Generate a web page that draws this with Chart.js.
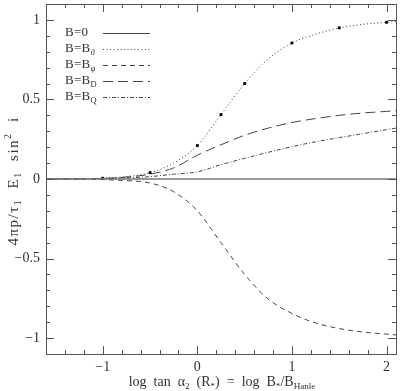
<!DOCTYPE html>
<html>
<head>
<meta charset="utf-8">
<script src="https://cdn.jsdelivr.net/npm/chart.js@4"></script>
<style>
  body { margin: 0; background: #fff; }
  #wrap { width: 400px; height: 391px; }
</style>
</head>
<body>
<div id="wrap"><canvas id="hanleChart" width="400" height="391"></canvas></div>
<script>
// x values shared by all curves (log tan alpha2)
const xVals = [-1.6, -1.25, -1, -0.75, -0.5, -0.25, 0, 0.25, 0.5, 0.75, 1, 1.25, 1.5, 1.75, 2, 2.1];
const zeroVals  = [0, 0, 0, 0, 0, 0, 0, 0, 0, 0, 0, 0, 0, 0, 0, 0];
const thetaVals = [0, 0.001, 0.005, 0.015, 0.04, 0.1, 0.21, 0.405, 0.6, 0.755, 0.855, 0.91, 0.95, 0.972, 0.985, 0.99];
const phiVals   = [0, -0.001, -0.004, -0.01, -0.025, -0.08, -0.2, -0.4, -0.6, -0.755, -0.845, -0.905, -0.94, -0.962, -0.975, -0.98];
const dVals     = [0, 0.001, 0.004, 0.012, 0.03, 0.07, 0.15, 0.215, 0.275, 0.32, 0.355, 0.38, 0.4, 0.415, 0.425, 0.43];
const qVals     = [0, 0.001, 0.003, 0.007, 0.015, 0.03, 0.045, 0.09, 0.13, 0.168, 0.203, 0.234, 0.26, 0.285, 0.31, 0.32];

// black square markers on the B_theta curve
const markX = [-1, -0.5, 0, 0.25, 0.5, 1, 1.5, 2];
const markY = [0.005, 0.04, 0.21, 0.405, 0.6, 0.855, 0.95, 0.985];

const xTicks = [-1, 0, 1, 2];
const xTickLabels = ['\u22121', '0', '1', '2'];
const yTicks = [-1, -0.5, 0, 0.5, 1];
const yTickLabels = ['\u22121', '\u22120.5', '0', '0.5', '1'];

const FONT = '"Liberation Serif", "DejaVu Serif", serif';
const INK = '#333';

const pts = (ys) => xVals.map((x, i) => ({ x: x, y: ys[i] }));

// legend entries: [label, subscript, dash]
const legendItems = [
  ['B=0', '', []],
  ['B=B', '\u03d1', [1, 2.5]],
  ['B=B', '\u03c6', [5, 4]],
  ['B=B', 'D', [10, 5]],
  ['B=B', 'Q', [4, 2, 1, 2]]
];

function drawRich(ctx, parts, x, y, size, align, spacing) {
  // parts: [text, mode] mode: '' | 'sub' | 'sup'
  ctx.letterSpacing = (spacing || 0) + 'px';
  let w = 0;
  parts.forEach(p => {
    ctx.font = (p[1] ? size * 0.65 : size) + 'px ' + FONT;
    w += ctx.measureText(p[0]).width;
  });
  let cx = align === 'center' ? x - w / 2 : x;
  parts.forEach(p => {
    const s = p[1] ? size * 0.65 : size;
    ctx.font = s + 'px ' + FONT;
    let dy = 0;
    if (p[1] === 'sub') dy = size * 0.3;
    if (p[1] === 'sup') dy = -size * 0.4;
    ctx.fillText(p[0], cx, y + dy);
    cx += ctx.measureText(p[0]).width;
  });
  ctx.letterSpacing = '0px';
}

const framePlugin = {
  id: 'frame',
  afterDraw(chart) {
    const ctx = chart.ctx;
    const a = chart.chartArea;
    const xs = chart.scales.x, ys = chart.scales.y;
    ctx.save();
    ctx.strokeStyle = '#555';
    ctx.lineWidth = 1;
    ctx.setLineDash([]);
    ctx.strokeRect(a.left + 0.5, a.top + 0.5, a.right - a.left, a.bottom - a.top);

    // x ticks (inward, bottom and top)
    ctx.beginPath();
    for (let v = -1.6; v <= 2.1 + 1e-9; v += 0.2) {
      const px = Math.round(xs.getPixelForValue(v)) + 0.5;
      const major = Math.abs(v - Math.round(v)) < 1e-6;
      const len = major ? 8 : 4;
      ctx.moveTo(px, a.bottom); ctx.lineTo(px, a.bottom - len);
      ctx.moveTo(px, a.top); ctx.lineTo(px, a.top + len);
    }
    // y ticks (inward, left and right)
    for (let v = -1.1; v <= 1.1 + 1e-9; v += 0.1) {
      const py = Math.round(ys.getPixelForValue(v)) + 0.5;
      const major = Math.abs(v * 2 - Math.round(v * 2)) < 1e-6;
      const len = major ? 8 : 4;
      ctx.moveTo(a.left, py); ctx.lineTo(a.left + len, py);
      ctx.moveTo(a.right, py); ctx.lineTo(a.right - len, py);
    }
    ctx.stroke();

    ctx.fillStyle = INK;
    ctx.font = '14px ' + FONT;
    ctx.textBaseline = 'middle';
    ctx.textAlign = 'center';
    xTicks.forEach((v, i) => ctx.fillText(xTickLabels[i], xs.getPixelForValue(v), a.bottom + 13));
    ctx.textAlign = 'right';
    yTicks.forEach((v, i) => ctx.fillText(yTickLabels[i], a.left - 6, ys.getPixelForValue(v)));

    // x title
    ctx.textAlign = 'left';
    drawRich(ctx, [['log  tan  \u03b1', ''], ['2', 'sub'], ['  (R', ''], ['*', 'sub'], [')  =  log  B', ''], ['*', 'sub'], ['/B', ''], ['Hanle', 'sub']],
      222, 382, 14, 'center', 0);

    // y title
    ctx.save();
    ctx.translate(14, 181);
    ctx.rotate(-Math.PI / 2);
    drawRich(ctx, [['4\u03c0p/\u03c4', ''], ['1', 'sub'], ['  E', ''], ['1', 'sub'], ['  sin', ''], ['2', 'sup'], ['  i', '']], 0, 0, 15, 'center', 1.5);
    ctx.restore();

    // legend
    legendItems.forEach((it, i) => {
      const y = 33 + i * 16;
      ctx.fillStyle = INK;
      drawRich(ctx, [[it[0], ''], [it[1], it[1] ? 'sub' : '']], 65, y, 13, 'left', 0.3);
      ctx.beginPath();
      ctx.strokeStyle = '#444';
      ctx.setLineDash(it[2]);
      ctx.moveTo(103, y + 0.5); ctx.lineTo(150, y + 0.5);
      ctx.stroke();
    });
    ctx.restore();
  }
};

const lineDs = (data, dash, color, width) => ({
  data: pts(data), showLine: true, borderColor: color, borderWidth: width,
  borderDash: dash, pointRadius: 0, cubicInterpolationMode: 'monotone', fill: false
});

new Chart(document.getElementById('hanleChart').getContext('2d'), {
  type: 'scatter',
  data: {
    datasets: [
      lineDs(zeroVals, [], '#777', 1.5),
      lineDs(thetaVals, [1, 2.5], '#333', 1),
      lineDs(phiVals, [5, 4], '#444', 1),
      lineDs(dVals, [10, 5], '#444', 1),
      lineDs(qVals, [4, 2, 1, 2], '#444', 1),
      {
        data: markX.map((x, i) => ({ x: x, y: markY[i] })),
        showLine: false, pointStyle: 'rect', pointRadius: 2,
        backgroundColor: '#000', borderColor: '#000', borderWidth: 0
      }
    ]
  },
  options: {
    responsive: false,
    animation: false,
    layout: { padding: { left: 46, right: 3, top: 3, bottom: 37 } },
    plugins: { legend: { display: false }, tooltip: { enabled: false } },
    scales: {
      x: { type: 'linear', min: -1.6, max: 2.1, display: false },
      y: { type: 'linear', min: -1.1, max: 1.1, display: false }
    }
  },
  plugins: [framePlugin]
});
</script>
</body>
</html>
